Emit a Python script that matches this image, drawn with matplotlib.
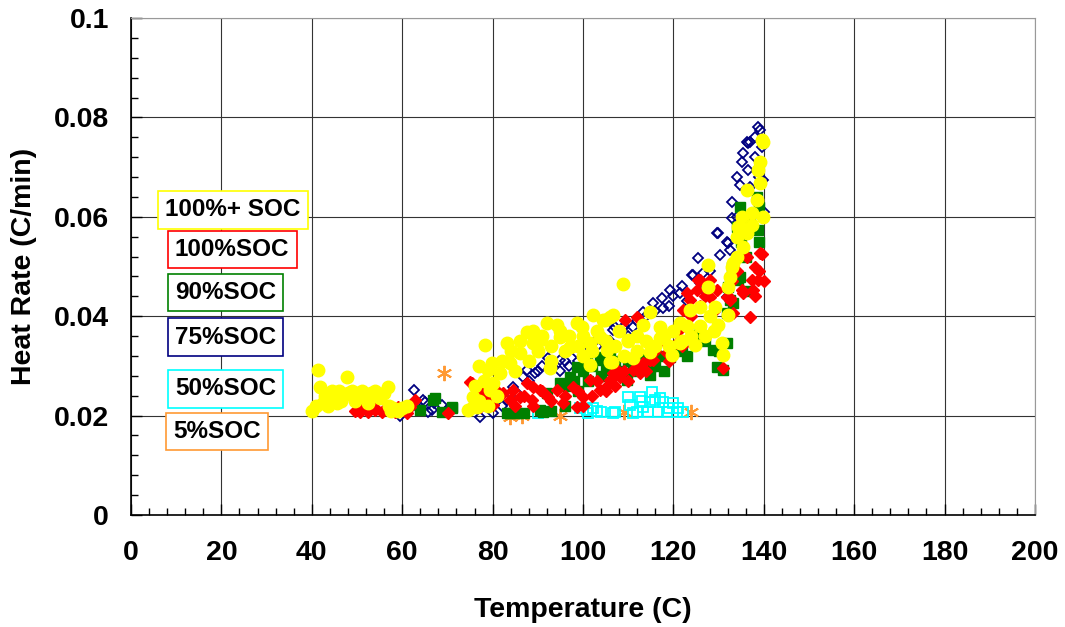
import matplotlib.pyplot as plt
from matplotlib.ticker import MultipleLocator, FormatStrFormatter

plt.rcParams['font.family'] = ['Liberation Sans', 'DejaVu Sans']
plt.rcParams['font.weight'] = 'bold'

# 100%+ SOC (yellow circles)
t_100p = [40, 41, 41.4, 41.8, 42.5, 43, 43.5, 44, 44.5, 45, 45.5, 46, 46.5, 47, 47.8, 48, 49, 49.5, 50,
          51, 52, 52.5, 53, 54, 55, 56, 56.9, 57, 57.5, 58, 59, 60, 61,
          74.6, 75.7, 75.7, 76.5, 78.3, 79, 79.4, 79.9, 80.1, 81.6, 83.2, 83.8, 86.1, 87.6, 88.9, 90.5,
          92, 92.7, 94.2, 94.9, 97.1, 98.7, 99.8, 101.5, 101.5, 102.2, 103.8, 104.4, 104.9, 105.3,
          106, 106, 106.4, 106.6, 108.8, 110, 111, 113.3, 114.8, 114.8, 117, 117, 119.7, 121.5, 121.5,
          123.7, 124.8, 125.9, 127.7, 127.7, 129.2, 129.9, 130.8, 131, 132.1, 132.1, 132.5, 132.9,
          133.2, 134.1, 134.1, 134.3, 134.7, 135.2, 135.4, 136.3, 136.3, 137.4, 137.4, 138.5, 138.7,
          139.2, 139.2, 139.8, 139.8, 139.6,
          82, 84, 85, 86, 88, 89, 90, 91, 93, 93, 95, 96, 97, 99, 100, 100, 102, 103, 105, 107, 108,
          109, 110, 112, 112, 114, 116, 118, 119, 120, 122, 123, 124, 126, 127, 128, 129, 76, 77, 78,
          81, 77, 79]
h_100p = [0.021, 0.022, 0.0292, 0.0258, 0.0225, 0.024, 0.022, 0.0235, 0.025, 0.024, 0.0225, 0.025, 0.023,
          0.024, 0.0278, 0.0245, 0.025, 0.023, 0.0245, 0.025, 0.024, 0.0225, 0.0245, 0.025, 0.0235,
          0.0245, 0.0258, 0.022, 0.021, 0.0215, 0.021, 0.0215, 0.022,
          0.0211, 0.0217, 0.0237, 0.0218, 0.0342, 0.0292, 0.0252, 0.0306, 0.0265, 0.0286, 0.0346,
          0.0306, 0.0326, 0.0369, 0.0346, 0.0352, 0.0386, 0.0296, 0.0382, 0.0358, 0.0338, 0.0386,
          0.0378, 0.0346, 0.0302, 0.0402, 0.0358, 0.0392, 0.0392, 0.0332, 0.0398, 0.0308, 0.0308,
          0.0402, 0.0465, 0.0352, 0.0316, 0.0382, 0.0328, 0.0408, 0.0378, 0.0356, 0.0322, 0.0386,
          0.0346, 0.0412, 0.0342, 0.0419, 0.0459, 0.0503, 0.0419, 0.0382, 0.0346, 0.0322, 0.0402,
          0.0459, 0.0479, 0.050, 0.0507, 0.052, 0.056, 0.058, 0.058, 0.060, 0.054, 0.0654, 0.0567,
          0.0608, 0.0584, 0.0634, 0.0694, 0.071, 0.0668, 0.060, 0.075, 0.0755,
          0.031, 0.033, 0.029, 0.035, 0.031, 0.037, 0.033, 0.036, 0.034, 0.031, 0.037, 0.033, 0.036,
          0.034, 0.032, 0.036, 0.033, 0.037, 0.035, 0.034, 0.037, 0.032, 0.035, 0.036, 0.033, 0.035,
          0.034, 0.036, 0.034, 0.037, 0.035, 0.038, 0.036, 0.038, 0.036, 0.040, 0.037, 0.026, 0.030,
          0.027, 0.024, 0.023, 0.022]

# 100%SOC (red diamonds)
t_100 = [49.6, 50.7, 52.4, 54, 54, 55.5, 57, 58.5, 60, 61.7, 62.8, 70.1, 75, 75.4, 77.2, 77.2,
         78.3, 80.1, 82.3, 83.8, 84.5, 86.1, 87.6, 88.7, 88.9, 90.5, 92.3, 94.2, 95.6, 97.8, 98.7,
         100, 101.5, 103.8, 104.9, 106, 106.6, 107.5, 108.2, 109.3, 111, 111.9, 112.6, 113.3, 114.8,
         115.5, 117, 118.6, 120.8, 122.1, 123, 123.7, 125.2, 125.4, 125.9, 128.1, 128.1, 129.6, 131,
         131.9, 132.5, 132.5, 133.2, 135.2, 135.4, 136.3, 136.9, 137.4, 137.6, 138.7, 139.2, 139.5,
         79, 81, 85, 87, 89, 91, 93, 96, 99, 100, 102, 103, 105, 107, 109, 110, 112, 114, 116, 118,
         119, 121, 122, 124, 126, 127, 129, 133, 134, 138, 139, 138, 140, 51.5, 53, 56, 59, 61]
h_100 = [0.021, 0.0207, 0.0207, 0.0211, 0.0215, 0.0207, 0.0215, 0.0207, 0.0211, 0.0217, 0.0231,
         0.0205, 0.0268, 0.0265, 0.0252, 0.0218, 0.0238, 0.0221, 0.0245, 0.0231, 0.0252, 0.0238,
         0.0265, 0.0231, 0.0258, 0.0252, 0.0238, 0.0252, 0.0225, 0.0258, 0.0218, 0.0238, 0.0272,
         0.0252, 0.0256, 0.0272, 0.0286, 0.0292, 0.0278, 0.0392, 0.0292, 0.0398, 0.0286, 0.0306,
         0.0312, 0.0312, 0.0358, 0.0326, 0.0346, 0.0412, 0.0447, 0.0433, 0.0453, 0.0473, 0.0473,
         0.0439, 0.0473, 0.0453, 0.0296, 0.0439, 0.0433, 0.0437, 0.0406, 0.0453, 0.0447, 0.052,
         0.0398, 0.0473, 0.0453, 0.0473, 0.0527, 0.0525,
         0.023, 0.025, 0.022, 0.024, 0.022, 0.025, 0.023, 0.024, 0.025, 0.022, 0.024, 0.027, 0.025,
         0.026, 0.029, 0.027, 0.030, 0.029, 0.033, 0.035, 0.031, 0.037, 0.034, 0.040, 0.042, 0.044,
         0.041, 0.047, 0.049, 0.050, 0.049, 0.044, 0.047, 0.0218, 0.0222, 0.0212, 0.0218, 0.0205]

# 90%SOC (green squares)
t_90 = [63.9, 66.8, 67.3, 68.8, 71, 71, 83.2, 83.8, 85.4, 90.5, 91.2, 92, 94.9, 97.1, 98.7, 100.9,
        103.8, 104.4, 106, 106, 109.7, 114.8, 114.8, 119.2, 121, 124, 128.8, 129.6, 131, 131.9,
        131.9, 132.1, 132.5, 133.2, 134.1, 134.3, 134.7, 134.7, 138.5, 138.7,
        96, 98, 99, 100, 101, 102, 104, 105, 107, 108, 110, 111, 113, 115, 116, 117, 118, 120, 122,
        123, 125, 126, 127, 130, 133, 135, 136, 137, 139, 139, 136, 93, 87, 96]
h_90 = [0.0211, 0.0231, 0.0235, 0.0207, 0.0215, 0.0218, 0.0205, 0.0205, 0.0205, 0.0211, 0.0207,
        0.0245, 0.0265, 0.0278, 0.0298, 0.0312, 0.0318, 0.0312, 0.0332, 0.0292, 0.0272, 0.0282,
        0.0298, 0.0318, 0.0330, 0.0362, 0.0332, 0.0298, 0.0292, 0.0346, 0.0406, 0.0459, 0.0433,
        0.0426, 0.058, 0.0473, 0.0479, 0.062, 0.064, 0.0573,
        0.026, 0.027, 0.025, 0.029, 0.027, 0.030, 0.028, 0.030, 0.031, 0.029, 0.031, 0.029, 0.032,
        0.031, 0.030, 0.032, 0.029, 0.033, 0.034, 0.032, 0.035, 0.037, 0.035, 0.033, 0.050, 0.055,
        0.052, 0.060, 0.062, 0.055, 0.045, 0.021, 0.0205, 0.022]

# 75%SOC (navy open diamonds)
t_75 = [59.5, 62.6, 64.6, 65, 65.7, 66.6, 68.8, 77.2, 80.1, 83.2, 84.5, 85.4, 86.7, 87.6, 89.4,
        92.3, 93.4, 94.9, 98.7, 102.2, 105.3, 106.6, 107.1, 108.8, 111, 113.3, 115.5, 117.5, 117.7,
        119.2, 121.5, 124.1, 124.3, 125.4, 125.9, 126.5, 129.6, 129.9, 130.3, 131.9, 131.9, 132.1,
        132.5, 132.9, 134.1, 134.7, 135.2, 135.4, 136.3, 136.5, 136.5, 138.7, 139.2, 139.6, 139.8,
        82, 88, 90, 91, 95, 96, 97, 99, 100, 101, 103, 104, 106, 109, 110, 112, 114, 116, 119, 120,
        122, 123, 126, 127, 128, 133, 134, 137, 138, 138, 137, 139, 140, 61, 63, 67, 70]
h_75 = [0.020, 0.0252, 0.0231, 0.0228, 0.0207, 0.0211, 0.0221, 0.0197, 0.0205, 0.0231, 0.0258,
        0.0245, 0.0278, 0.0292, 0.0286, 0.0316, 0.0298, 0.0312, 0.0326, 0.0346, 0.0338, 0.0372,
        0.0378, 0.0376, 0.0378, 0.0408, 0.0426, 0.0437, 0.0416, 0.0453, 0.0447, 0.0483, 0.0483,
        0.0517, 0.0467, 0.0487, 0.0567, 0.0567, 0.0523, 0.0439, 0.055, 0.0547, 0.0533, 0.0598,
        0.068, 0.0664, 0.071, 0.0728, 0.0751, 0.0694, 0.0748, 0.078, 0.0775, 0.074, 0.0674,
        0.022, 0.027, 0.029, 0.030, 0.029, 0.031, 0.030, 0.031, 0.033, 0.032, 0.034, 0.036, 0.035,
        0.038, 0.036, 0.039, 0.040, 0.041, 0.042, 0.044, 0.046, 0.043, 0.047, 0.045, 0.049, 0.063,
        0.060, 0.066, 0.072, 0.076, 0.075, 0.068, 0.061, 0.021, 0.022, 0.0225, 0.0212]

# 50%SOC (cyan open squares)
t_50 = [90, 99.3, 100.9, 102.2, 103, 106.6, 107.1, 110, 110.4, 111, 111.9, 112.6, 113.3, 114.4,
        114.8, 115.3, 115.9, 116.6, 117.7, 118.6, 119.9, 120.8, 122.1, 101, 104, 113, 117, 119, 121]
h_50 = [0.0205, 0.0215, 0.0211, 0.0215, 0.0209, 0.0205, 0.0207, 0.0237, 0.0221, 0.0205, 0.0207,
        0.0237, 0.0217, 0.0207, 0.0227, 0.0247, 0.0231, 0.0207, 0.0227, 0.0207, 0.0225, 0.0207,
        0.0207, 0.0205, 0.0208, 0.023, 0.0235, 0.0215, 0.0215]

# 5%SOC (orange asterisks)
t_5 = [69.3, 83.8, 86.5, 95, 109, 124]
h_5 = [0.0286, 0.0197, 0.020, 0.0199, 0.0207, 0.0207]

labels = ['100%+ SOC', '100%SOC', '90%SOC', '75%SOC', '50%SOC', '5%SOC']
label_colors = ['#FFFF00', '#FF0000', '#008000', '#000080', '#00FFFF', '#FF9933']

fig = plt.figure(figsize=(10.65, 6.27), dpi=100)
ax = fig.add_axes([0.123, 0.1786, 0.8488, 0.7927])

ax.plot(t_5, h_5, ls='none', marker=(6, 2, 0), ms=11, mec='#FF9933', mew=1.4)
ax.plot(t_50, h_50, ls='none', marker='s', ms=6.5, mfc='none', mec='#00FFFF', mew=1.3)
ax.plot(t_75, h_75, ls='none', marker='D', ms=5, mfc='none', mec='#000080', mew=1.3)
ax.plot(t_90, h_90, ls='none', marker='s', ms=7, color='#008000')
ax.plot(t_100, h_100, ls='none', marker='D', ms=6, color='#FF0000')
ax.plot(t_100p, h_100p, ls='none', marker='o', ms=9, color='#FFFF00')

ax.set_xlim(0, 200)
ax.set_ylim(0, 0.1)
ax.xaxis.set_major_locator(MultipleLocator(20))
ax.xaxis.set_minor_locator(MultipleLocator(4))
ax.yaxis.set_major_locator(MultipleLocator(0.02))
ax.yaxis.set_minor_locator(MultipleLocator(0.004))
ax.yaxis.set_major_formatter(FormatStrFormatter('%g'))
ax.grid(True, which='major', color='#333333', lw=0.8)
ax.set_axisbelow(True)
ax.tick_params(which='both', direction='in', top=False, right=False, labelsize=20.5)
ax.tick_params(which='major', length=8, width=1)
ax.tick_params(which='minor', length=5, width=1)
ax.tick_params(axis='y', pad=16)
ax.tick_params(axis='x', pad=18)
for s in ['top', 'right']:
    ax.spines[s].set_color('#999999')
for s in ['left', 'bottom']:
    ax.spines[s].set_linewidth(1.2)

ax.set_xlabel('Temperature (C)', fontsize=20.5, fontweight='bold', labelpad=22)
ax.set_ylabel('Heat Rate (C/min)', fontsize=20.5, fontweight='bold', labelpad=12)

# label boxes
lab_x = [7.5, 9.7, 9.7, 9.7, 9.7, 9.3]
lab_y = [0.0614, 0.0534, 0.0448, 0.0358, 0.0254, 0.0168]
for txt, c, lx, ly in zip(labels, label_colors, lab_x, lab_y):
    ax.text(lx, ly, txt, fontsize=17.5, fontweight='bold', ha='left', va='center',
            bbox=dict(boxstyle='square,pad=0.3', fc='white', ec=c, lw=1.2))

fig.savefig('out.png', dpi=100)
